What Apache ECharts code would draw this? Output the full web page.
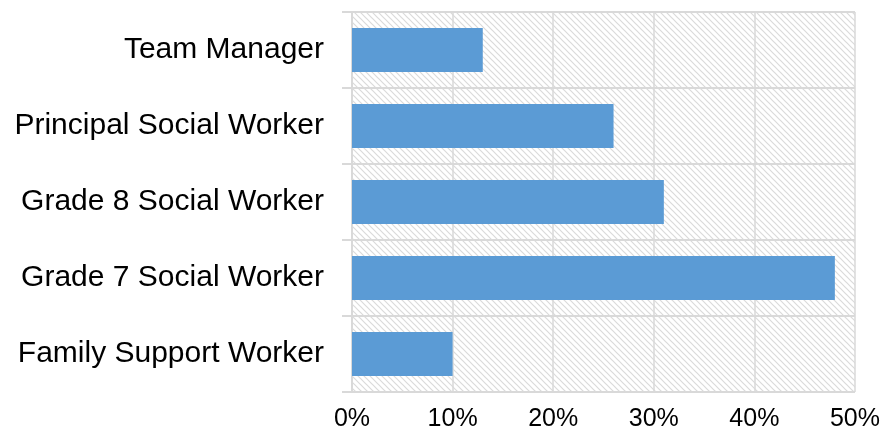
<!DOCTYPE html>
<html><head><meta charset="utf-8">
<script src="https://cdn.jsdelivr.net/npm/echarts@6/dist/echarts.min.js"></script>
<style>html,body{margin:0;padding:0;background:#fff}#c{width:883px;height:437px}</style>
</head><body><div id="c"></div>
<script>
var categories = ["Team Manager", "Principal Social Worker", "Grade 8 Social Worker", "Grade 7 Social Worker", "Family Support Worker"];
var values = [13, 26, 31, 48, 10];
var xTicks = [0, 10, 20, 30, 40, 50];

var pc = document.createElement('canvas');
pc.width = 6; pc.height = 6;
var ctx = pc.getContext('2d');
ctx.fillStyle = '#ffffff'; ctx.fillRect(0, 0, 6, 6);
ctx.strokeStyle = '#dadada'; ctx.lineWidth = 1.2;
ctx.beginPath();
ctx.moveTo(-1, -1); ctx.lineTo(7, 7);
ctx.moveTo(-1, 5); ctx.lineTo(1, 7);
ctx.moveTo(5, -1); ctx.lineTo(7, 1);
ctx.stroke();

var chart = echarts.init(document.getElementById('c'));
var gridColor = '#d9d9d9';
chart.setOption({
  animation: false,
  grid: { left: 352, right: 28, top: 12, bottom: 45, show: true, borderWidth: 0,
          backgroundColor: { image: pc, repeat: 'repeat' } },
  xAxis: {
    type: 'value', min: xTicks[0], max: xTicks[xTicks.length - 1], interval: 10,
    axisLine: { show: false }, axisTick: { show: false },
    splitLine: { show: true, lineStyle: { color: gridColor, width: 1.5 } },
    axisLabel: { formatter: '{value}%', fontFamily: 'Liberation Sans, Arial', fontSize: 25, color: '#000', margin: 15 }
  },
  yAxis: {
    type: 'category', data: categories, inverse: true,
    axisLine: { show: true, lineStyle: { color: gridColor, width: 2 } },
    axisTick: { show: true, length: 10, lineStyle: { color: gridColor, width: 2 } },
    splitLine: { show: true, lineStyle: { color: gridColor, width: 2 } },
    axisLabel: { fontFamily: 'Liberation Sans, Arial', fontSize: 30, color: '#000', margin: 28 }
  },
  series: [{
    type: 'bar', data: values, barCategoryGap: '42%',
    itemStyle: { color: '#5b9bd5' }
  }]
});
</script></body></html>
